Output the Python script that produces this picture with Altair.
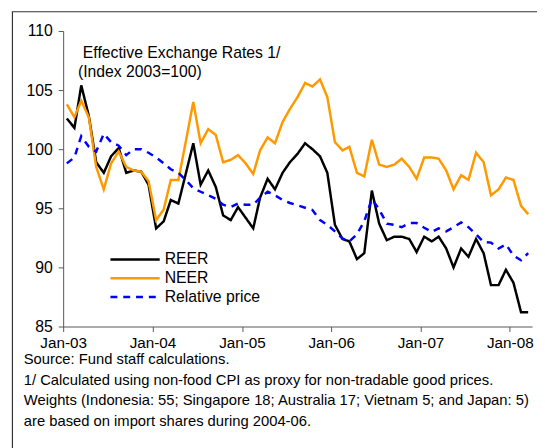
import altair as alt
import pandas as pd

# ---- data ----
series_names = ["REER", "NEER", "Relative price"]
series_colors = ["#000000", "#FF9900", "#0000FF"]
series_dashes = [[1, 0], [1, 0], [7, 6]]

start_month = "2003-01-01"
n_months = 63  # Jan-03 .. Mar-08

reer = [102.6, 101.8, 105.4, 102.8, 98.9, 98.0, 99.4, 100.1, 98.0, 98.2,
        98.1, 97.0, 93.3, 93.9, 95.7, 95.4, 97.9, 100.5, 97.0, 98.2,
        96.8, 94.4, 94.0, 95.1, 94.2, 93.3, 95.9, 97.5, 96.6, 98.0,
        98.9, 99.6, 100.5, 100.0, 99.4, 98.0, 93.6, 92.4, 92.2, 90.7,
        91.2, 96.5, 93.7, 92.3, 92.6, 92.6, 92.4, 91.3, 92.6, 92.2,
        92.6, 91.6, 90.0, 91.6, 90.9, 92.4, 91.2, 88.5, 88.5, 89.8,
        88.7, 86.2, 86.2]

neer = [103.8, 102.7, 104.1, 102.7, 98.5, 96.6, 98.8, 99.8, 98.5, 98.2,
        98.1, 97.3, 94.0, 94.9, 97.4, 97.4, 100.6, 104.0, 100.5, 101.7,
        101.2, 98.9, 99.1, 99.5, 98.8, 97.9, 99.9, 101.0, 100.5, 102.3,
        103.4, 104.4, 105.6, 105.3, 105.9, 104.4, 100.6, 99.9, 100.2, 98.0,
        97.7, 100.8, 98.7, 98.5, 98.7, 99.2, 98.5, 97.5, 99.3, 99.3,
        99.2, 98.2, 96.6, 97.8, 97.4, 99.7, 98.9, 96.1, 96.6, 97.6,
        97.4, 95.2, 94.5]

rel_price = [98.8, 99.3, 101.1, 100.2, 99.8, 101.3, 100.6, 100.3, 99.5, 100.0,
             100.0, 99.7, 99.3, 98.8, 98.3, 98.0, 97.4, 96.7, 96.4, 96.1,
             95.8, 95.3, 95.1, 95.4, 95.3, 95.3, 95.9, 96.4, 96.1, 95.7,
             95.45, 95.25, 95.05, 94.85, 94.0, 93.6, 93.05, 92.45, 92.2, 92.8,
             93.9, 95.8, 94.9, 93.7, 93.6, 93.4, 93.75, 93.75, 93.35, 93.0,
             93.3, 93.05, 93.4, 93.8, 93.4, 92.8, 92.15, 92.1, 91.6, 91.95,
             91.0, 90.6, 91.2]

y_ticks = [85, 90, 95, 100, 105, 110]
x_tick_years = [2003, 2004, 2005, 2006, 2007, 2008]

title_lines = ["Effective Exchange Rates 1/", "(Index 2003=100)"]
footer_lines = [
    "Source: Fund staff calculations.",
    "1/ Calculated using non-food CPI as proxy for non-tradable good prices.",
    "Weights (Indonesia: 55; Singapore 18; Australia 17; Vietnam 5; and Japan: 5)",
    "are based on import shares during 2004-06.",
]

FONT = "Liberation Sans"

# ---- build table ----
months = pd.date_range(start_month, periods=n_months, freq="MS")
dates = [(m + pd.Timedelta(days=15)).strftime("%Y-%m-%d") for m in months]
rows = []
for name, vals in zip(series_names, [reer, neer, rel_price]):
    for d, v in zip(dates, vals):
        rows.append({"date": d, "value": v, "series": name})
df = pd.DataFrame(rows)

color_scale = alt.Scale(domain=series_names, range=series_colors)
dash_scale = alt.Scale(domain=series_names, range=series_dashes)

lines = alt.Chart(df).mark_line(strokeWidth=2.5, strokeJoin="miter", strokeCap="butt").encode(
    x=alt.X("date:T",
            scale=alt.Scale(domain=[alt.DateTime(year=2003, month=1, date=1),
                                    alt.DateTime(year=2008, month=4, date=1)]),
            axis=alt.Axis(values=[alt.DateTime(year=y, month=1, date=1) for y in x_tick_years],
                          format="%b-%y", title=None, grid=False,
                          labelFont=FONT, labelFontSize=15.5, labelColor="#000000",
                          labelPadding=4, tickSize=5, tickColor="#555555",
                          domainColor="#555555", labelFlush=False)),
    y=alt.Y("value:Q",
            scale=alt.Scale(domain=[85, 110], nice=False, zero=False),
            axis=alt.Axis(values=y_ticks, title=None, grid=False,
                          labelFont=FONT, labelFontSize=16, labelColor="#000000",
                          labelPadding=6, tickSize=5, tickColor="#555555",
                          domainColor="#555555")),
    color=alt.Color("series:N", scale=color_scale, legend=None),
    strokeDash=alt.StrokeDash("series:N", scale=dash_scale, legend=None),
)

# ---- legend drawn inside the plot (same colour / dash scales) ----
leg_df = pd.DataFrame({"series": series_names,
                       "ly": [232, 251, 270],
                       "lx1": [48] * 3, "lx2": [98] * 3, "tx": [103] * 3})
leg_lines = alt.Chart(leg_df).mark_rule(strokeWidth=2.5, strokeCap="butt").encode(
    x=alt.X("lx1:Q", scale=None), x2="lx2:Q", y=alt.Y("ly:Q", scale=None),
    color=alt.Color("series:N", scale=color_scale, legend=None),
    strokeDash=alt.StrokeDash("series:N", scale=dash_scale, legend=None),
)
leg_text = alt.Chart(leg_df).mark_text(
    align="left", baseline="middle", font=FONT, fontSize=16, color="#000000"
).encode(x=alt.X("tx:Q", scale=None), y=alt.Y("ly:Q", scale=None), text="series:N")

frame = alt.Chart(pd.DataFrame({"k": [0]})).mark_rect(
    filled=False, stroke="#333333", strokeWidth=1.2
).encode(x=alt.value(-51.5), x2=alt.value(700), y=alt.value(-19.5), y2=alt.value(700))

title_df = pd.DataFrame({"t": title_lines, "px": [20, 15], "py": [22, 42]})
title_text = alt.Chart(title_df).mark_text(
    align="left", baseline="middle", font=FONT, fontSize=16, color="#000000"
).encode(x=alt.X("px:Q", scale=None), y=alt.Y("py:Q", scale=None), text="t:N")

footer_df = pd.DataFrame({"t": footer_lines,
                          "px": [-40] * 4,
                          "py": [333, 354, 375, 396]})
footer_text = alt.Chart(footer_df).mark_text(
    align="left", baseline="middle", font=FONT, fontSize=15, color="#000000"
).encode(x=alt.X("px:Q", scale=None), y=alt.Y("py:Q", scale=None), text="t:N")

chart = alt.layer(frame, lines, leg_lines, leg_text, title_text, footer_text).properties(
    width=476, height=300,
    autosize=alt.AutoSizeParams(type="none"),
    padding={"left": 56, "top": 20, "right": 5, "bottom": 120},
).configure_view(stroke=None)

chart.save("out.html", embed_options={"renderer": "svg", "actions": False})
